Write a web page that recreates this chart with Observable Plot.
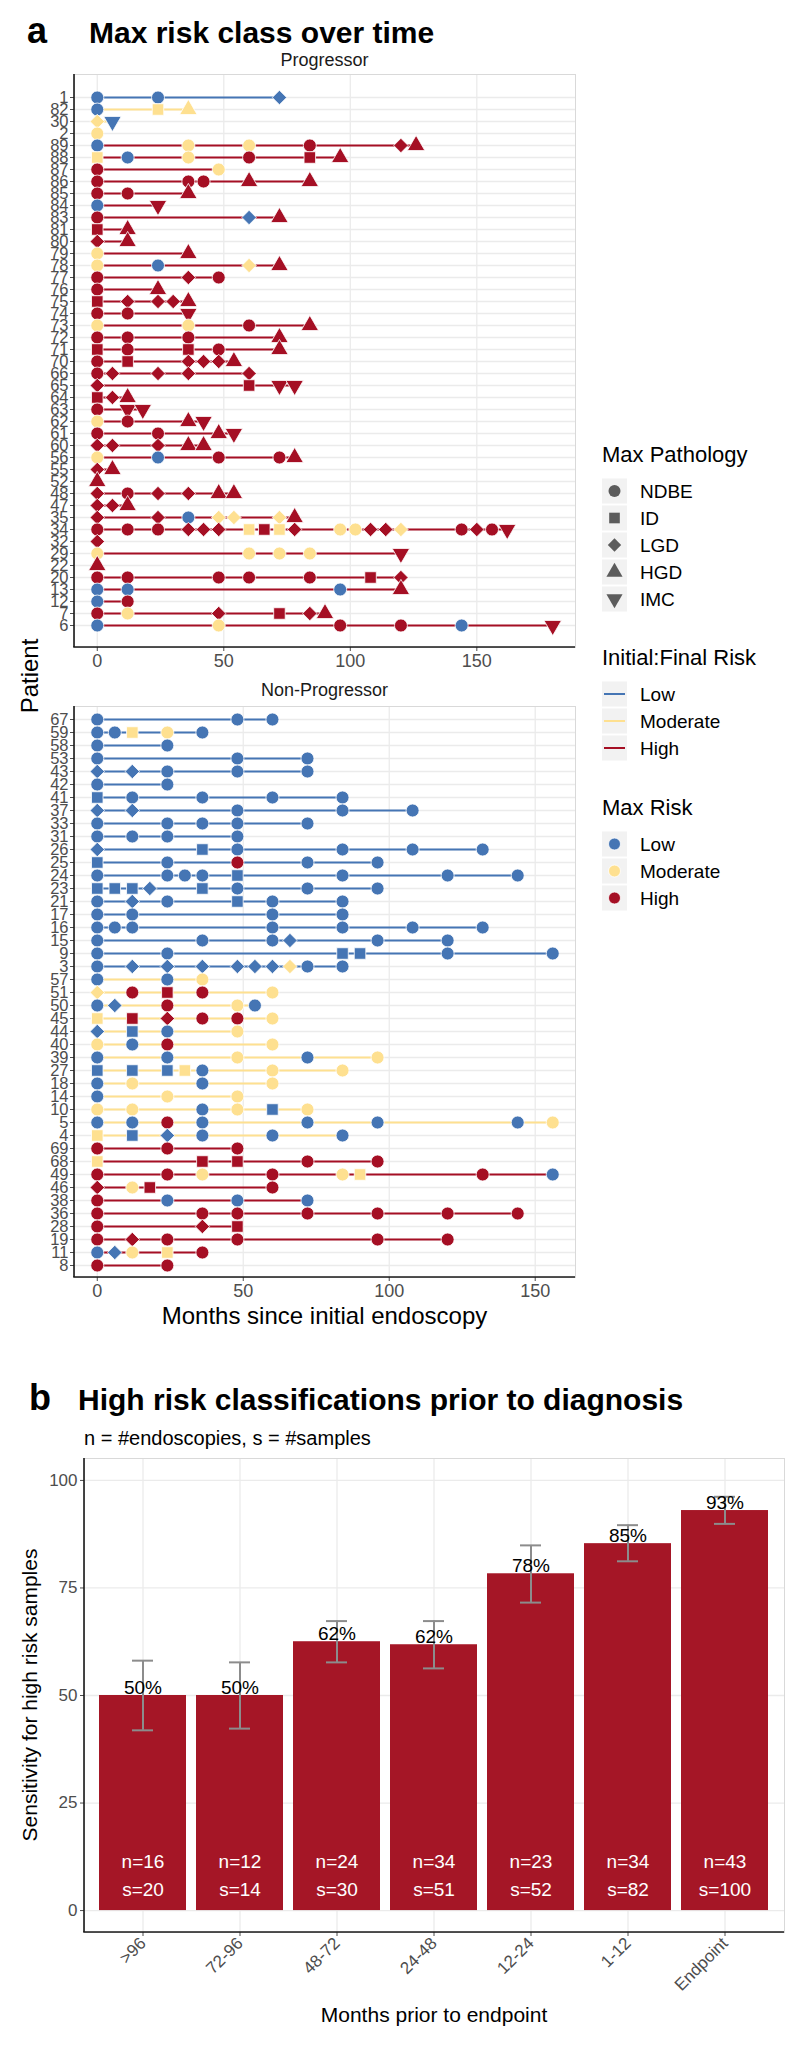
<!DOCTYPE html>
<html><head><meta charset="utf-8">
<script src="https://cdn.jsdelivr.net/npm/d3@7"></script>
<script src="https://cdn.jsdelivr.net/npm/@observablehq/plot@0.6"></script>
<style>
html,body{margin:0;padding:0;background:#fff;}
#root{position:relative;width:800px;height:2045px;overflow:hidden;font-family:"Liberation Sans",Arial,Helvetica,sans-serif;}
</style></head>
<body><div id="root"></div>
<script>
// ---------------- DATA ----------------
const riskLevels = ["Low", "Moderate", "High"];
const riskColors = ["#4575b4", "#fee090", "#a50f24"];
const pathologyLevels = ["NDBE", "ID", "LGD", "HGD", "IMC"];
// pathology codes: N=NDBE, I=ID, L=LGD, H=HGD, C=IMC ; risk codes: 0=Low, 1=Moderate, 2=High
const pathCode = {N: "NDBE", I: "ID", L: "LGD", H: "HGD", C: "IMC"};

// Progressor panel (top to bottom)
const progPatients = ["1","82","30","2","89","88","87","86","85","84","83","81","80","79","78","77","76","75","74","73","72","71","70","66","65","64","63","62","61","60","56","55","52","48","47","35","34","32","29","22","20","13","12","7","6"];
const progLineRisk = "0111" + "2222222222" + "2222222222" + "2222222222" + "2222222222" + "2";
const progMonths = [
  [0,24,72],[0,24,36],[0,6],[0],[0,36,60,84,120,126],[0,12,36,60,84,96],[0,48],[0,36,42,60,84],
  [0,12,36],[0,24],[0,60,72],[0,12],[0,12],[0,36],[0,24,60,72],[0,36,48],[0,24],[0,12,24,30,36],
  [0,12,36],[0,36,60,84],[0,12,36,72],[0,12,36,48,72],[0,12,36,42,48,54],[0,6,24,36,60],[0,60,72,78],
  [0,6,12],[0,12,18],[0,12,36,42],[0,24,48,54],[0,6,24,36,42],[0,24,48,72,78],[0,6],[0],
  [0,12,24,36,48,54],[0,6,12],[0,24,36,48,54,72,78],
  [0,12,24,36,42,48,60,66,72,78,96,102,108,114,120,144,150,156,162],
  [0],[0,60,72,84,120],[0],[0,12,48,60,84,108,120],[0,12,96,120],[0,12],[0,12,48,72,84,90],[0,48,96,120,144,180]
];
const progPathology = ["NNL","NIH","LC","N","NNNNLH","INNNIH","NN","NNNHH","NNH","NC","NLH","IH","LH","NH","NNLH","NLN","NH","ILLLH","NNC","NNNH","NNNH","ININH","NILLLH","NLLLL","LICC","ILH","NCC","NNHC","NNHC","LLLHH","NNNNH","LH","H","LNLLHH","LLH","LLNLLLH","NNNLLLIIILNNLLLNLNC","L","NNNNC","H","NNNNNIL","NNNH","NN","NNLILH","NNNNNC"];
const progRisk = ["000","011","10","1","011222","101222","21","22222","222","02","202","22","22","12","1012","222","22","22222","222","1122","2222","22222","222222","22222","2222","222","222","1222","2222","22222","10222","22","2","222222","222","2201112","2222221212112212222","2","11112","2","2222222","0002","02","212222","012202"];

// Non-progressor panel (top to bottom)
const nonPatients = ["67","59","58","53","43","42","41","37","33","31","26","25","24","23","21","17","16","15","9","3","57","51","50","45","44","40","39","27","18","14","10","5","4","69","68","49","46","38","36","28","19","11","8"];
const nonLineRisk = "0000000000" + "0000000000" + "1111111111" + "111" + "2222222222";
const nonMonths = [
  [0,48,60],[0,6,12,24,36],[0,24],[0,48,72],[0,12,24,48,72],[0,24],[0,12,36,60,84],[0,12,48,84,108],
  [0,24,36,48,72],[0,12,24,48],[0,36,48,84,108,132],[0,24,48,72,96],[0,24,30,36,48,84,120,144],
  [0,6,12,18,36,48,72,96],[0,12,24,48,60,84],[0,12,60,84],[0,6,12,60,84,108,132],[0,36,60,66,96,120],
  [0,24,84,90,120,156],[0,12,24,36,48,54,60,66,72,84],
  [0,24,36],[0,12,24,36,60],[0,6,24,48,54],[0,12,24,36,48,60],[0,12,24,48],[0,12,24,60],[0,24,48,72,96],
  [0,12,24,30,36,60,84],[0,12,36,60],[0,24,48],[0,12,36,48,60,72],[0,12,24,36,72,96,144,156],[0,12,24,36,60,84],
  [0,24,48],[0,36,48,72,96],[0,24,36,60,84,90,132,156],[0,12,18,60],[0,24,48,72],[0,36,48,72,96,120,144],
  [0,36,48],[0,12,24,48,96,120],[0,6,12,24,36],[0,24]
];
const nonPathology = ["NNN","NNINN","NN","NNN","LLNNN","NN","INNNN","LLNNN","NNNNN","NNNN","LINNNN","INNNN","NNNNINNN","IIILINNN","NLNINN","NNNN","NNNNNNN","NNNLNN","NNIINN","NLLLLLLLNN","NNN","LNINN","NLNNN","IILNNN","LINN","NNNN","NNNNN","IIIINNN","NNNN","NNN","NNNNIN","NNNNNNNN","IILNNN","NNN","IIINN","NNNNNINN","LNIN","NNNN","NNNNNNN","NLI","NLNNNN","NLNIN","NN"];
const nonRisk = ["000","00110","00","000","00000","00","00000","00000","00000","0000","000000","00200","00000000","00000000","000000","0000","0000000","000000","000000","0000000100","001","12221","00210","122221","0001","1021","00101","0001011","0101","011","110101","00200001","100000","222","12222","22121120","2122","2000","2222222","222","222222","00112","22"];

// Panel b
const windows = [">96", "72-96", "48-72", "24-48", "12-24", "1-12", "Endpoint"];
const sensitivity = [50, 50, 62.5, 61.8, 78.3, 85.3, 93.0];
const pctLabels = ["50%", "50%", "62%", "62%", "78%", "85%", "93%"];
const ciLow = [41.9, 42.3, 57.7, 56.3, 71.6, 81.2, 89.9];
const ciHigh = [58.1, 57.7, 67.3, 67.3, 84.9, 89.6, 96.2];
const nEndoscopies = [16, 12, 24, 34, 23, 34, 43];
const nSamples = [20, 14, 30, 51, 52, 82, 100];

// ---------------- BUILD ----------------
const FONT = "'Liberation Sans', Arial, Helvetica, sans-serif";
const root = document.getElementById("root");
function place(node, left, top) {
  node.style.position = "absolute"; node.style.left = left + "px"; node.style.top = top + "px";
  root.appendChild(node);
}
const triangleDown = {
  draw(ctx, size) {
    const y = -Math.sqrt(size / (Math.sqrt(3) * 3));
    ctx.moveTo(0, -y * 2); ctx.lineTo(-Math.sqrt(3) * y, y); ctx.lineTo(Math.sqrt(3) * y, y); ctx.closePath();
  }
};
const symbolRange = [d3.symbolCircle, d3.symbolSquare, d3.symbolDiamond2, d3.symbolTriangle, triangleDown];

function buildRows(patients, lineRisk, months, paths, risks) {
  const pts = [], segs = [];
  patients.forEach((p, i) => {
    const m = months[i];
    if (m.length !== paths[i].length || m.length !== risks[i].length) console.warn("length mismatch", p);
    m.forEach((mo, j) => pts.push({patient: p, month: mo, pathology: pathCode[paths[i][j]], risk: riskLevels[+risks[i][j]]}));
    if (m.length > 1) segs.push({patient: p, x1: d3.min(m), x2: d3.max(m), line: riskLevels[+lineRisk[i]]});
  });
  return {pts, segs};
}

const axisLines = (index, scales, values, dim) => {
  const {width, height, marginLeft, marginRight, marginTop, marginBottom} = dim;
  const g = d3.create("svg:g").attr("stroke", "#1a1a1a").attr("stroke-width", 1.6);
  g.append("line").attr("x1", marginLeft).attr("x2", marginLeft).attr("y1", marginTop).attr("y2", height - marginBottom);
  g.append("line").attr("x1", marginLeft - 0.8).attr("x2", width - marginRight).attr("y1", height - marginBottom).attr("y2", height - marginBottom);
  return g.node();
};

const plotStyle = {fontFamily: FONT, fontSize: "17px", color: "#4d4d4d", background: "none", overflow: "visible"};

function timelinePlot(patients, rows, xDomain, innerHeight) {
  const mt = 10, mb = 40;
  return Plot.plot({
    width: 580, height: mt + innerHeight + mb,
    marginTop: mt, marginBottom: mb, marginLeft: 74, marginRight: 5,
    style: plotStyle,
    x: {domain: xDomain},
    y: {type: "point", domain: patients, padding: 0.6, align: 0.5},
    color: {domain: riskLevels, range: riskColors},
    symbol: {domain: pathologyLevels, range: symbolRange},
    marks: [
      Plot.gridY({stroke: "#ebebeb", strokeOpacity: 1, strokeWidth: 1.3}),
      Plot.gridX({ticks: [0, 50, 100, 150], stroke: "#ebebeb", strokeOpacity: 1, strokeWidth: 1.3}),
      Plot.frame({stroke: "#d9d9d9"}),
      Plot.ruleY(rows.segs, {y: "patient", x1: "x1", x2: "x2", stroke: "line", strokeWidth: 2}),
      Plot.dot(rows.pts, {x: "month", y: "patient", symbol: "pathology", fill: "risk", stroke: "white", strokeWidth: 0.8, r: 6.5}),
      Plot.axisY({tickSize: 4, tickPadding: 2, fontSize: 16.5, label: null}),
      Plot.axisX({ticks: [0, 50, 100, 150], tickSize: 4, tickPadding: 3, fontSize: 18, label: null}),
      axisLines
    ]
  });
}

const progRows = buildRows(progPatients, progLineRisk, progMonths, progPathology, progRisk);
const nonRows = buildRows(nonPatients, nonLineRisk, nonMonths, nonPathology, nonRisk);
place(timelinePlot(progPatients, progRows, [-9, 189], 573), 0, 64);
place(timelinePlot(nonPatients, nonRows, [-7.8, 163.8], 571), 0, 696);

// Panel b
const barData = windows.map((w, i) => ({window: w, value: sensitivity[i], pct: pctLabels[i], lo: ciLow[i], hi: ciHigh[i], n: nEndoscopies[i], s: nSamples[i]}));
const barPlot = Plot.plot({
  width: 800, height: 597, marginTop: 10, marginBottom: 113, marginLeft: 84, marginRight: 16,
  style: plotStyle,
  x: {domain: windows, paddingInner: 0.1, paddingOuter: 0.14, align: 0.5},
  y: {domain: [-5.1, 105.1]},
  marks: [
    Plot.gridY({ticks: [0, 25, 50, 75, 100], stroke: "#ebebeb", strokeOpacity: 1, strokeWidth: 1.3}),
    Plot.gridX({stroke: "#ebebeb", strokeOpacity: 1, strokeWidth: 1.3}),
    Plot.frame({stroke: "#d9d9d9"}),
    Plot.barY(barData, {x: "window", y1: 0, y2: "value", fill: "#a51626"}),
    Plot.ruleX(barData, {x: "window", y1: "lo", y2: "hi", stroke: "#8c8c8c", strokeWidth: 2}),
    Plot.tickY(barData, {x: "window", y: "lo", stroke: "#8c8c8c", strokeWidth: 2, insetLeft: 33, insetRight: 33}),
    Plot.tickY(barData, {x: "window", y: "hi", stroke: "#8c8c8c", strokeWidth: 2, insetLeft: 33, insetRight: 33}),
    Plot.text(barData, {x: "window", y: "value", text: "pct", dy: -8, fontSize: 19, fill: "#000"}),
    Plot.text(barData, {x: "window", text: d => "n=" + d.n, frameAnchor: "bottom", dy: -65, fontSize: 19, fill: "white"}),
    Plot.text(barData, {x: "window", text: d => "s=" + d.s, frameAnchor: "bottom", dy: -37, fontSize: 19, fill: "white"}),
    Plot.axisY({ticks: [0, 25, 50, 75, 100], tickSize: 4, tickPadding: 3, fontSize: 17, label: null}),
    Plot.axisX({tickRotate: -45, tickSize: 4, tickPadding: 4, fontSize: 17, label: null}),
    axisLines
  ]
});
place(barPlot, 0, 1448);

// ---------------- TEXT & LEGENDS ----------------
const ov = d3.create("svg").attr("width", 800).attr("height", 2045)
  .style("position", "absolute").style("left", "0px").style("top", "0px")
  .style("pointer-events", "none").style("font-family", FONT);
function txt(x, y, s, o = {}) {
  const t = ov.append("text").attr("x", x).attr("y", y).text(s)
    .attr("font-size", o.size || 18).attr("fill", o.fill || "#000");
  if (o.bold) t.attr("font-weight", "bold");
  if (o.anchor) t.attr("text-anchor", o.anchor);
  if (o.baseline) t.attr("dominant-baseline", o.baseline);
  if (o.rotate) t.attr("transform", `rotate(${o.rotate},${x},${y})`);
  return t;
}
txt(27, 43, "a", {size: 36, bold: true});
txt(89, 43, "Max risk class over time", {size: 30, bold: true});
txt(324.5, 66, "Progressor", {size: 18, anchor: "middle", fill: "#1a1a1a"});
txt(324.5, 696, "Non-Progressor", {size: 18, anchor: "middle", fill: "#1a1a1a"});
txt(29, 676, "Patient", {size: 24, anchor: "middle", baseline: "central", rotate: -90});
txt(324.5, 1324, "Months since initial endoscopy", {size: 24, anchor: "middle"});

txt(29, 1410, "b", {size: 36, bold: true});
txt(78, 1410, "High risk classifications prior to diagnosis", {size: 30, bold: true});
txt(84, 1445, "n = #endoscopies, s = #samples", {size: 20});
txt(29, 1695, "Sensitivity for high risk samples", {size: 21, anchor: "middle", baseline: "central", rotate: -90});
txt(434, 2022, "Months prior to endpoint", {size: 21, anchor: "middle"});

// Legends
const keyX = 602, labX = 640, keyW = 25;
function keyBox(cy) {
  ov.append("rect").attr("x", keyX).attr("y", cy - 12.5).attr("width", keyW).attr("height", 25).attr("fill", "#f2f2f2");
}
txt(keyX, 462, "Max Pathology", {size: 22});
pathologyLevels.forEach((p, i) => {
  const cy = 491 + i * 27;
  keyBox(cy);
  ov.append("path").attr("d", d3.symbol(symbolRange[i], Math.PI * 36)())
    .attr("transform", `translate(${keyX + keyW / 2},${cy})`).attr("fill", "#5c5c5c");
  txt(labX, cy, p, {size: 19, baseline: "central"});
});
txt(keyX, 665, "Initial:Final Risk", {size: 22});
riskLevels.forEach((r, i) => {
  const cy = 694 + i * 27;
  keyBox(cy);
  ov.append("line").attr("x1", keyX + 2).attr("x2", keyX + keyW - 2).attr("y1", cy).attr("y2", cy)
    .attr("stroke", riskColors[i]).attr("stroke-width", 2);
  txt(labX, cy, r, {size: 19, baseline: "central"});
});
txt(keyX, 815, "Max Risk", {size: 22});
riskLevels.forEach((r, i) => {
  const cy = 844 + i * 27;
  keyBox(cy);
  ov.append("circle").attr("cx", keyX + keyW / 2).attr("cy", cy).attr("r", 6)
    .attr("fill", riskColors[i]).attr("stroke", "white").attr("stroke-width", 0.8);
  txt(labX, cy, r, {size: 19, baseline: "central"});
});
root.appendChild(ov.node());
</script>
</body></html>
